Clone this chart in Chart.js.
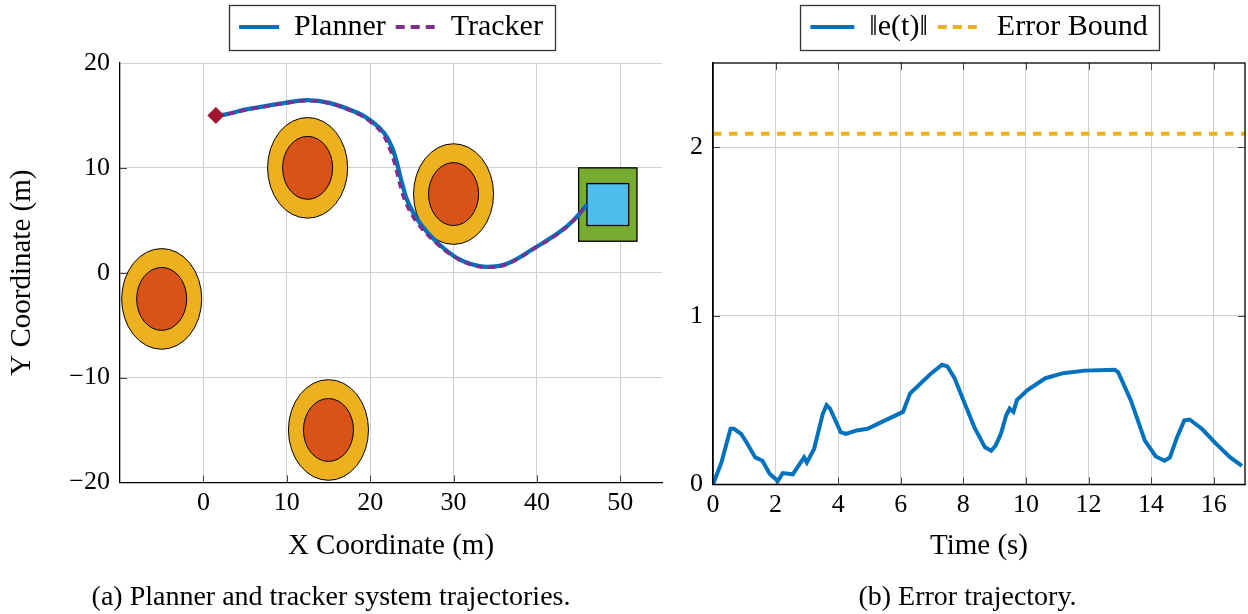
<!DOCTYPE html>
<html><head><meta charset="utf-8">
<script src="https://cdn.jsdelivr.net/npm/chart.js@4.4.1/dist/chart.umd.min.js"></script>
<style>
html,body{margin:0;padding:0;background:#fff;}
body{width:1248px;height:614px;overflow:hidden;position:relative;}
#c1{position:absolute;left:0;top:0;}
#c2{position:absolute;left:690px;top:0;}
</style></head>
<body>
<canvas id="c1" width="674" height="614"></canvas>
<canvas id="c2" width="558" height="614"></canvas>
<script>
// ---------- data: left panel ----------
const planX = [1.5, 2.7, 5.3, 9.8, 12.4, 15.1, 18.6, 20.4, 21.7, 22.6, 23.2, 23.8, 24.6, 26.0, 28.0, 30.2, 32.0, 34.0, 36.4, 39.9, 42.6, 44.4, 46.0];
const planY = [15.0, 15.1, 15.6, 16.2, 16.45, 16.2, 15.2, 14.3, 13.3, 12.0, 10.5, 8.6, 6.6, 4.7, 2.9, 1.5, 0.85, 0.55, 0.85, 2.45, 3.8, 5.0, 6.5];
const trackX = [1.5, 2.7, 5.3, 9.8, 12.4, 15.1, 18.6, 20.3, 21.5, 22.3, 22.9, 23.5, 24.3, 25.7, 27.8, 30.1, 32.0, 34.0, 36.4, 39.9, 42.6, 44.4, 46.0];
const trackY = [15.0, 15.1, 15.55, 16.15, 16.4, 16.15, 15.1, 14.2, 13.2, 11.9, 10.5, 8.6, 6.6, 4.7, 2.9, 1.5, 0.8, 0.5, 0.8, 2.4, 3.75, 5.0, 6.5];
const startX = [1.5];
const startY = [15.0];
const obsCx = [-5, 12.5, 30, 15];
const obsCy = [-2.5, 10, 7.5, -15];
const obsOuterR = [4.8, 4.8, 4.8, 4.8];
const obsInnerR = [3, 3, 3, 3];
const goalOuter = [45, 52, 3, 10];     // xmin, xmax, ymin, ymax
const goalInner = [46, 51, 4.5, 8.5];
const xTicksA = [0, 10, 20, 30, 40, 50];
const yTicksA = [-20, -10, 0, 10, 20];

// ---------- data: right panel ----------
const timeS = [0, 0.27, 0.56, 0.67, 0.9, 1.07, 1.35, 1.58, 1.81, 2.07, 2.23, 2.55, 2.91, 3.0, 3.23, 3.51, 3.63, 3.74, 4.08, 4.25, 4.59, 4.94, 5.5, 6.07, 6.3, 6.64, 6.98, 7.32, 7.49, 7.72, 8.0, 8.35, 8.69, 8.89, 9.03, 9.2, 9.37, 9.48, 9.6, 9.71, 10.05, 10.62, 11.19, 11.87, 12.84, 12.95, 13.35, 13.8, 14.15, 14.43, 14.6, 14.83, 15.06, 15.23, 15.62, 16.08, 16.53, 16.9];
const errNorm = [0, 0.13, 0.33, 0.33, 0.30, 0.25, 0.16, 0.14, 0.063, 0.02, 0.067, 0.06, 0.16, 0.13, 0.21, 0.42, 0.47, 0.45, 0.31, 0.30, 0.32, 0.33, 0.38, 0.43, 0.54, 0.60, 0.66, 0.71, 0.70, 0.63, 0.50, 0.34, 0.22, 0.20, 0.23, 0.30, 0.41, 0.45, 0.43, 0.50, 0.56, 0.63, 0.66, 0.675, 0.68, 0.665, 0.50, 0.26, 0.166, 0.14, 0.16, 0.28, 0.38, 0.385, 0.33, 0.24, 0.16, 0.11];
const boundT = [0, 17];
const boundV = [2.08, 2.08];
const xTicksB = [0, 2, 4, 6, 8, 10, 12, 14, 16];
const yTicksB = [0, 1, 2];

const FONT = "'Liberation Serif', 'Times New Roman', serif";
Chart.defaults.font.family = FONT;
Chart.defaults.color = '#000';

const pts = (xs, ys) => xs.map((x, i) => ({x: x, y: ys[i]}));
const fmt = v => String(v).replace('-', '\u2212');

// legend items take their line style from the dataset (dashed or solid)
const lineLabels = chart => Chart.defaults.plugins.legend.labels.generateLabels(chart).map(it => {
  const ds = chart.data.datasets[it.datasetIndex];
  it.lineDash = ds.borderDash ? [9, 6] : [];
  it.lineWidth = 4;
  it.strokeStyle = ds.borderColor;
  it.fillStyle = ds.borderColor;
  return it;
});

// keep the legend near the top of the canvas, draw its frame
const legendFrame = {
  id: 'legendFrame',
  afterLayout(chart) {
    const lg = chart.legend;
    if (!lg) return;
    const h = lg.height;
    lg.top = 2;
    lg.bottom = lg.top + h;
  },
  afterDraw(chart) {
    const lg = chart.legend;
    if (!lg || !lg.legendHitBoxes || !lg.legendHitBoxes.length) return;
    const hb = lg.legendHitBoxes;
    const l = Math.min(...hb.map(h => h.left)) - 10;
    const r = Math.max(...hb.map(h => h.left + h.width)) + 12;
    const cy = hb[0].top + hb[0].height / 2 + 0.5;
    const ctx = chart.ctx;
    ctx.save();
    ctx.strokeStyle = '#333';
    ctx.lineWidth = 1.3;
    ctx.setLineDash([]);
    ctx.strokeRect(Math.round(l) + 0.5, Math.round(cy - 22.5) + 0.5, Math.round(r - l), 45);
    ctx.restore();
  }
};

function innerTicks(chart, sides) {
  const ctx = chart.ctx, a = chart.chartArea;
  const xs = chart.scales.x, ys = chart.scales.y;
  ctx.save();
  ctx.strokeStyle = '#444';
  ctx.lineWidth = 1;
  ctx.beginPath();
  xs.ticks.forEach(t => {
    const px = Math.round(xs.getPixelForValue(t.value)) + 0.5;
    if (px <= a.left + 1 || px >= a.right - 1) return;
    if (sides.bottom) { ctx.moveTo(px, a.bottom); ctx.lineTo(px, a.bottom - 7); }
    if (sides.top) { ctx.moveTo(px, a.top); ctx.lineTo(px, a.top + 7); }
  });
  ys.ticks.forEach(t => {
    const py = Math.round(ys.getPixelForValue(t.value)) + 0.5;
    if (py <= a.top + 1 || py >= a.bottom - 1) return;
    if (sides.left) { ctx.moveTo(a.left, py); ctx.lineTo(a.left + 7, py); }
    if (sides.right) { ctx.moveTo(a.right, py); ctx.lineTo(a.right - 7, py); }
  });
  ctx.stroke();
  ctx.restore();
}

const obstaclesPlugin = {
  id: 'obstacles',
  beforeDatasetsDraw(chart) {
    const ctx = chart.ctx, xs = chart.scales.x, ys = chart.scales.y;
    ctx.save();
    ctx.lineWidth = 1;
    ctx.strokeStyle = '#000';
    obsCx.forEach((cx, i) => {
      const px = xs.getPixelForValue(cx), py = ys.getPixelForValue(obsCy[i]);
      [[obsOuterR[i], '#EDB120'], [obsInnerR[i], '#D95319']].forEach(([r, col]) => {
        const rx = Math.abs(xs.getPixelForValue(cx + r) - px);
        const ry = Math.abs(ys.getPixelForValue(obsCy[i] + r) - py);
        ctx.beginPath();
        ctx.ellipse(px, py, rx, ry, 0, 0, Math.PI * 2);
        ctx.fillStyle = col;
        ctx.fill();
        ctx.stroke();
      });
    });
    ctx.lineWidth = 1.3;
    [[goalOuter, '#77AC30'], [goalInner, '#4DBEEE']].forEach(([g, col]) => {
      const x0 = xs.getPixelForValue(g[0]), x1 = xs.getPixelForValue(g[1]);
      const y0 = ys.getPixelForValue(g[3]), y1 = ys.getPixelForValue(g[2]);
      ctx.fillStyle = col;
      ctx.fillRect(x0, y0, x1 - x0, y1 - y0);
      ctx.strokeRect(x0, y0, x1 - x0, y1 - y0);
    });
    ctx.restore();
    innerTicks(chart, {left: true, bottom: true});
  }
};

const boxPlugin = {
  id: 'box',
  beforeDatasetsDraw(chart) {
    innerTicks(chart, {left: true, bottom: true, top: true, right: true});
  },
  afterDatasetsDraw(chart) {
    const ctx = chart.ctx, a = chart.chartArea;
    ctx.save();
    ctx.strokeStyle = '#000';
    ctx.lineWidth = 1.3;
    ctx.strokeRect(a.left, a.top, a.right - a.left, a.bottom - a.top);
    ctx.restore();
  }
};

const gridColor = '#cfcfcf';
const tickFont = {size: 26};
const titleFont = {size: 29};
const legendFont = {size: 30};
const captionFont = {size: 28, weight: 'normal'};

// ---------- left chart ----------
new Chart(document.getElementById('c1'), {
  type: 'line',
  data: {
    datasets: [
      {label: 'Planner', data: pts(planX, planY), borderColor: '#0072BD', backgroundColor: '#0072BD',
       borderWidth: 4.3, pointRadius: 0, tension: 0.4, pointStyle: 'line', order: 3},
      {label: 'Tracker', data: pts(trackX, trackY), borderColor: '#7E2F8E', backgroundColor: '#7E2F8E',
       borderWidth: 3.3, borderDash: [7, 5], pointRadius: 0, tension: 0.4, pointStyle: 'line', order: 2},
      {label: 'Start', data: pts(startX, startY), showLine: false, pointStyle: 'rectRot', pointRadius: 8,
       pointBackgroundColor: '#A2142F', pointBorderColor: '#A2142F', order: 1}
    ]
  },
  options: {
    responsive: false, animation: false, devicePixelRatio: 1,
    layout: {padding: {left: 0, right: 12, top: 0, bottom: 0}},
    plugins: {
      tooltip: {enabled: false},
      legend: {
        position: 'top', fullSize: false,
        labels: {
          usePointStyle: true, pointStyleWidth: 40, padding: 10, font: legendFont,
          generateLabels: lineLabels,
          filter: item => item.text !== 'Start',
          sort: (a, b) => a.datasetIndex - b.datasetIndex
        }
      },
      title: {display: true, position: 'bottom', text: '(a) Planner and tracker system trajectories.',
        font: captionFont, padding: {top: 0, bottom: 0}, color: '#000'}
    },
    scales: {
      x: {
        type: 'linear', min: -10, max: 55,
        afterBuildTicks: s => { s.ticks = xTicksA.map(v => ({value: v})); },
        afterFit: s => { s.height = 98; },
        ticks: {font: tickFont, padding: 5, callback: v => fmt(v), maxRotation: 0, autoSkip: false},
        grid: {color: gridColor, drawTicks: false},
        border: {color: '#000', width: 1.3},
        title: {display: true, text: 'X Coordinate (m)', font: titleFont, padding: {top: 0, bottom: 17}}
      },
      y: {
        type: 'linear', min: -20, max: 20,
        afterBuildTicks: s => { s.ticks = yTicksA.map(v => ({value: v})); },
        afterFit: s => { s.width = 120; s.paddingTop = 63; },
        ticks: {font: tickFont, padding: 10, callback: v => fmt(v), autoSkip: false},
        grid: {color: gridColor, drawTicks: false},
        border: {color: '#000', width: 1.3},
        title: {display: true, text: 'Y Coordinate (m)', font: titleFont, padding: {top: 4.6, bottom: 0}}
      }
    }
  },
  plugins: [obstaclesPlugin, legendFrame]
});

// ---------- right chart ----------
new Chart(document.getElementById('c2'), {
  type: 'line',
  data: {
    datasets: [
      {label: '\u2016e(t)\u2016', data: pts(timeS, errNorm), borderColor: '#0072BD', backgroundColor: '#0072BD',
       borderWidth: 4, pointRadius: 0, tension: 0, pointStyle: 'line'},
      {label: 'Error Bound', data: pts(boundT, boundV), borderColor: '#EDB120', backgroundColor: '#EDB120',
       borderWidth: 4, borderDash: [8.5, 7.5], pointRadius: 0, tension: 0, pointStyle: 'line'}
    ]
  },
  options: {
    responsive: false, animation: false, devicePixelRatio: 1,
    layout: {padding: {left: 0, right: 3, top: 0, bottom: 0}},
    plugins: {
      tooltip: {enabled: false},
      legend: {
        position: 'top', fullSize: false,
        labels: {usePointStyle: true, pointStyleWidth: 44, padding: 10, font: legendFont,
          generateLabels: lineLabels}
      },
      title: {display: true, position: 'bottom', text: '(b) Error trajectory.',
        font: captionFont, padding: {top: 0, bottom: 0}, color: '#000'}
    },
    scales: {
      x: {
        type: 'linear', min: 0, max: 17,
        afterBuildTicks: s => { s.ticks = xTicksB.map(v => ({value: v})); },
        afterFit: s => { s.height = 96; },
        ticks: {font: tickFont, padding: 5, maxRotation: 0, autoSkip: false},
        grid: {color: gridColor, drawTicks: false},
        border: {color: '#000', width: 1.3},
        title: {display: true, text: 'Time (s)', font: titleFont, padding: {top: 0, bottom: 17}}
      },
      y: {
        type: 'linear', min: 0, max: 2.5,
        afterBuildTicks: s => { s.ticks = yTicksB.map(v => ({value: v})); },
        afterFit: s => { s.width = 23; s.paddingTop = 63; },
        ticks: {font: tickFont, padding: 10, autoSkip: false},
        grid: {color: gridColor, drawTicks: false},
        border: {color: '#000', width: 1.3}
      }
    }
  },
  plugins: [boxPlugin, legendFrame]
});
</script>
</body></html>
